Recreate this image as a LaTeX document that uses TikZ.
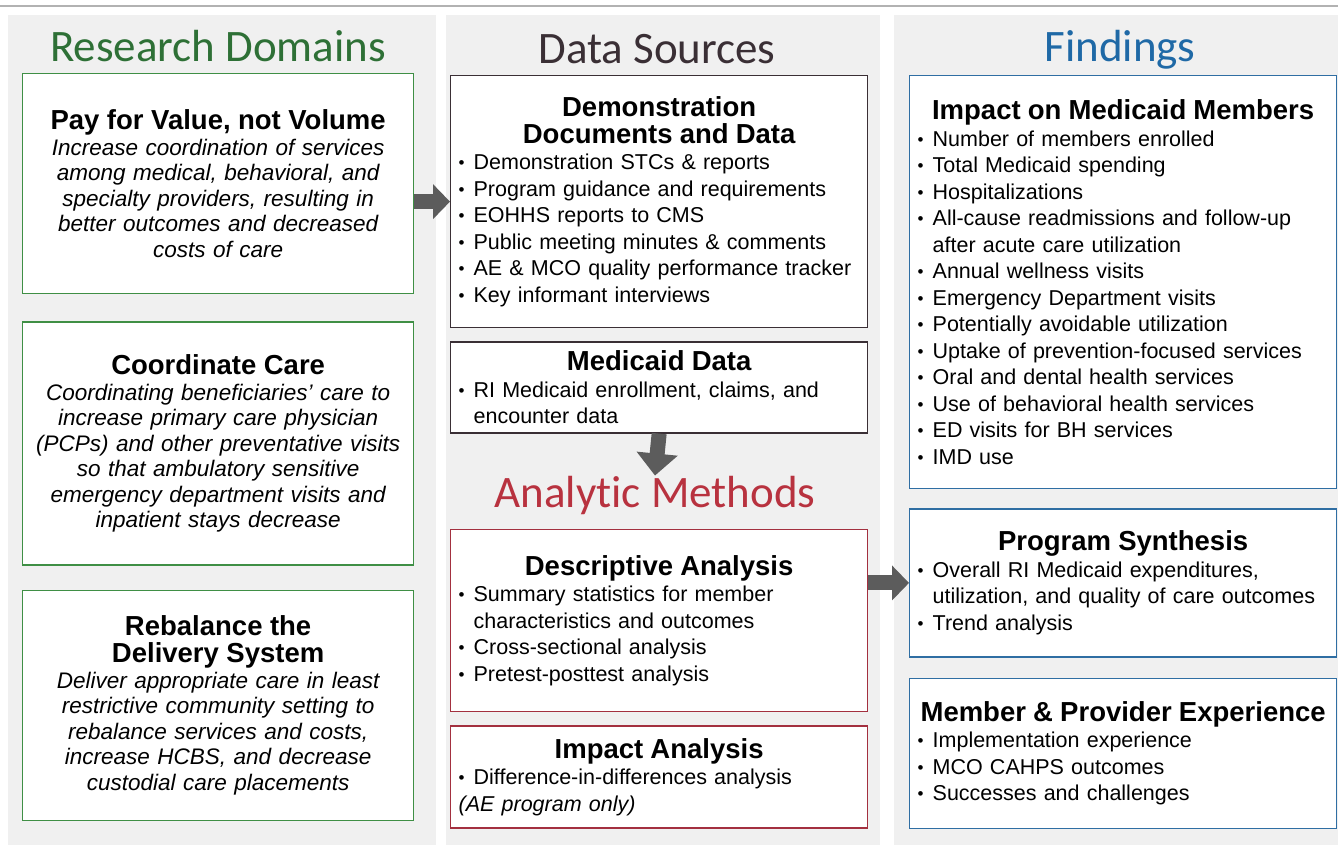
\documentclass[tikz,border=0pt]{standalone}
\usepackage{fontspec}
\setmainfont{Liberation Sans}
\newfontfamily\headfont[Ligatures=NoCommon]{Carlito}
\usetikzlibrary{positioning,arrows.meta}

\definecolor{domgreen}{HTML}{3F8F45}
\definecolor{domtitle}{HTML}{2E7036}
\definecolor{srcdark}{HTML}{3A2F35}
\definecolor{methred}{HTML}{A3303F}
\definecolor{methtitle}{HTML}{B8323F}
\definecolor{findblue}{HTML}{2F6EA3}
\definecolor{findtitle}{HTML}{1F69A6}
\definecolor{arrowgrey}{HTML}{5C5C5C}
\definecolor{panelgrey}{HTML}{F0F0F0}

\newcommand{\boxhead}{\fontsize{27.5}{27}\selectfont\bfseries\upshape}
\newcommand{\boxbody}{\fontsize{21.5}{26.5}\selectfont}
\newcommand{\domtext}{\fontsize{22.5}{25.5}\selectfont\itshape}
\newcommand{\bitem}[1]{\par\hangindent=15pt\hangafter=1\noindent\makebox[15pt][l]{\raisebox{1pt}{\fontsize{17}{17}\selectfont\textbullet}}#1}

\begin{document}
\begin{tikzpicture}[x=1pt,y=-1pt]

\tikzset{panel/.style={fill=panelgrey,draw=none},
coltitle/.style={font=\headfont\fontsize{45}{45}\selectfont,anchor=base,inner sep=0pt},
basebox/.style={draw,fill=white,line width=1.3pt,anchor=north west,inner xsep=8pt,inner ysep=4pt,align=left,font=\boxbody},
domainbox/.style={basebox,draw=domgreen,text width=375pt,align=center,font=\domtext},
sourcebox/.style={basebox,draw=srcdark,text width=401pt},
methodbox/.style={basebox,draw=methred,text width=401pt},
findingbox/.style={basebox,draw=findblue,text width=411pt},
bigarrow/.style={draw=arrowgrey,line width=15pt,-{Triangle[width=34pt,length=17pt]}}}

\useasboundingbox (0,0) rectangle (1338,854);

% Background panels
\draw[line width=1.5pt,black!30] (0,6) -- (1338,6);
\fill[panel] (8,15) rectangle (436,845);
\fill[panel] (446,15) rectangle (880,845);
\fill[panel] (894,15) rectangle (1338,845);

% Column titles
\node[coltitle,text=domtitle] (domhead) at (218,61) {Research Domains};
\node[coltitle,text=srcdark] (srchead) at (657,63) {Data Sources};
\node[coltitle,text=methtitle] (methhead) at (655,507) {Analytic Methods};
\node[coltitle,text=findtitle] (findhead) at (1120,61) {Findings};

% Research domains
\node[domainbox,minimum height=220pt] (dom1) at (22,73) {{\boxhead Pay for Value, not Volume\par}
Increase coordination of services\\ among medical, behavioral, and\\ specialty providers, resulting in\\ better outcomes and decreased\\ costs of care};
\node[domainbox,below=27pt of dom1,minimum height=243pt] (dom2) {{\boxhead Coordinate Care\par}
Coordinating beneficiaries' care to\\ increase primary care physician\\ (PCPs) and other preventative visits\\ so that ambulatory sensitive\\ emergency department visits and\\ inpatient stays decrease};
\node[domainbox,below=24pt of dom2,minimum height=230pt] (dom3) {{\boxhead Rebalance the\\ Delivery System\par}
Deliver appropriate care in least\\ restrictive community setting to\\ rebalance services and costs,\\ increase HCBS, and decrease\\ custodial care placements};

% Data sources
\node[sourcebox,minimum height=252pt] (src1) at (450,75) {{\centering\boxhead Demonstration\\ Documents and Data\par}
\bitem{Demonstration STCs \& reports}
\bitem{Program guidance and requirements}
\bitem{EOHHS reports to CMS}
\bitem{Public meeting minutes \& comments}
\bitem{AE \& MCO quality performance tracker}
\bitem{Key informant interviews}};
\node[sourcebox,below=13pt of src1,minimum height=91pt] (src2) {{\centering\boxhead Medicaid Data\par}
\bitem{RI Medicaid enrollment, claims, and\break encounter data}\par};

% Analytic methods
\node[methodbox,minimum height=182pt] (meth1) at (450,529) {{\centering\boxhead Descriptive Analysis\par}
\bitem{Summary statistics for member\break characteristics and outcomes}
\bitem{Cross-sectional analysis}
\bitem{Pretest-posttest analysis}};
\node[methodbox,below=13pt of meth1,minimum height=102pt] (meth2) {{\centering\boxhead Impact Analysis\par}
\bitem{Difference-in-differences analysis}
\par\noindent{\itshape (AE program only)}};

% Findings
\node[findingbox,minimum height=413pt] (find1) at (909,75) {{\centering\boxhead Impact on Medicaid Members\par}
\bitem{Number of members enrolled}
\bitem{Total Medicaid spending}
\bitem{Hospitalizations}
\bitem{All-cause readmissions and follow-up\break after acute care utilization}
\bitem{Annual wellness visits}
\bitem{Emergency Department visits}
\bitem{Potentially avoidable utilization}
\bitem{Uptake of prevention-focused services}
\bitem{Oral and dental health services}
\bitem{Use of behavioral health services}
\bitem{ED visits for BH services}
\bitem{IMD use}};
\node[findingbox,below=19pt of find1,minimum height=148pt] (find2) {{\centering\boxhead Program Synthesis\par}
\bitem{Overall RI Medicaid expenditures,\break utilization, and quality of care outcomes}
\bitem{Trend analysis}};
\node[findingbox,below=20pt of find2,minimum height=150pt] (find3) {{\centering\boxhead Member \& Provider Experience\par}
\bitem{Implementation experience}
\bitem{MCO CAHPS outcomes}
\bitem{Successes and challenges}};

% Arrows
\draw[bigarrow] (dom1.east |- src1.west) -- (src1.west);
\draw[bigarrow,-{Triangle[width=40pt,length=22pt]}] (src2.south) -- (methhead.north);
\draw[bigarrow] (meth1.east |- find2.west) -- (find2.west);

\end{tikzpicture}
\end{document}
